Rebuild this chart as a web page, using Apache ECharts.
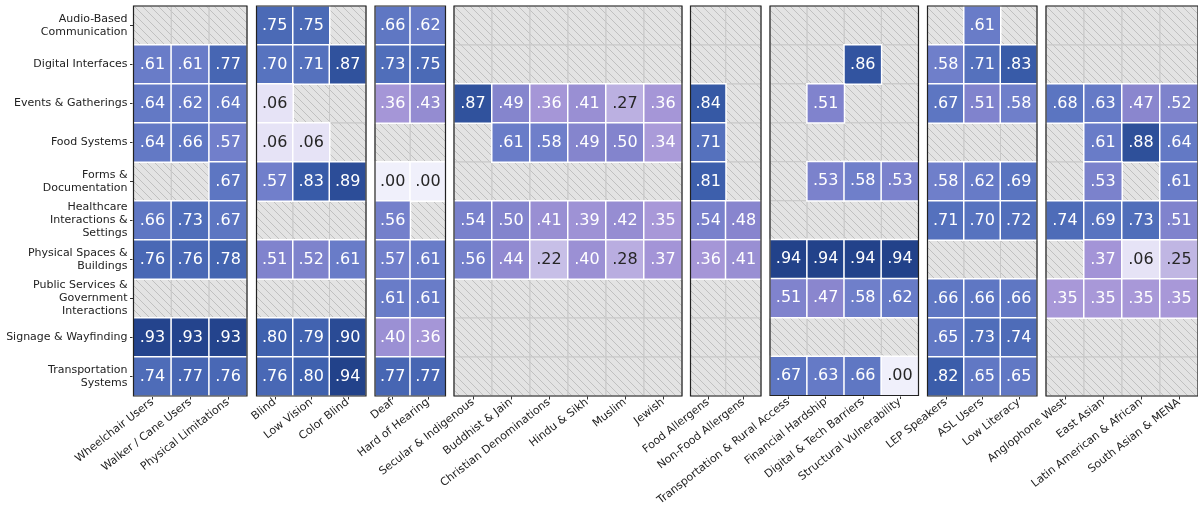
<!DOCTYPE html>
<html>
<head>
<meta charset="utf-8">
<script src="https://cdn.jsdelivr.net/npm/echarts@6/dist/echarts.min.js"></script>
<style>
  html, body { margin: 0; padding: 0; background: #fff; }
  #main { width: 1198px; height: 508px; }
</style>
</head>
<body>
<div id="main"></div>
<script>
// rows (top -> bottom)
const rowLabels = [
  'Audio-Based\nCommunication', 'Digital Interfaces', 'Events & Gatherings', 'Food Systems',
  'Forms &\nDocumentation', 'Healthcare\nInteractions &\nSettings', 'Physical Spaces &\nBuildings',
  'Public Services &\nGovernment\nInteractions', 'Signage & Wayfinding', 'Transportation\nSystems'
];

const mobilityCols = ['Wheelchair Users', 'Walker / Cane Users', 'Physical Limitations'];
const mobilityVals = [
  [null, null, null], [.61, .61, .77], [.64, .62, .64], [.64, .66, .57], [null, null, .67],
  [.66, .73, .67], [.76, .76, .78], [null, null, null], [.93, .93, .93], [.74, .77, .76]
];

const visionCols = ['Blind', 'Low Vision', 'Color Blind'];
const visionVals = [
  [.75, .75, null], [.70, .71, .87], [.06, null, null], [.06, .06, null], [.57, .83, .89],
  [null, null, null], [.51, .52, .61], [null, null, null], [.80, .79, .90], [.76, .80, .94]
];

const hearingCols = ['Deaf', 'Hard of Hearing'];
const hearingVals = [
  [.66, .62], [.73, .75], [.36, .43], [null, null], [.00, .00],
  [.56, null], [.57, .61], [.61, .61], [.40, .36], [.77, .77]
];

const faithCols = ['Secular & Indigenous', 'Buddhist & Jain', 'Christian Denominations', 'Hindu & Sikh', 'Muslim', 'Jewish'];
const faithVals = [
  [null, null, null, null, null, null], [null, null, null, null, null, null],
  [.87, .49, .36, .41, .27, .36], [null, .61, .58, .49, .50, .34],
  [null, null, null, null, null, null], [.54, .50, .41, .39, .42, .35],
  [.56, .44, .22, .40, .28, .37], [null, null, null, null, null, null],
  [null, null, null, null, null, null], [null, null, null, null, null, null]
];

const allergyCols = ['Food Allergens', 'Non-Food Allergens'];
const allergyVals = [
  [null, null], [null, null], [.84, null], [.71, null], [.81, null],
  [.54, .48], [.36, .41], [null, null], [null, null], [null, null]
];

const economicCols = ['Transportation & Rural Access', 'Financial Hardship', 'Digital & Tech Barriers', 'Structural Vulnerability'];
const economicVals = [
  [null, null, null, null], [null, null, .86, null], [null, .51, null, null], [null, null, null, null],
  [null, .53, .58, .53], [null, null, null, null], [.94, .94, .94, .94], [.51, .47, .58, .62],
  [null, null, null, null], [.67, .63, .66, .00]
];

const languageCols = ['LEP Speakers', 'ASL Users', 'Low Literacy'];
const languageVals = [
  [null, .61, null], [.58, .71, .83], [.67, .51, .58], [null, null, null], [.58, .62, .69],
  [.71, .70, .72], [null, null, null], [.66, .66, .66], [.65, .73, .74], [.82, .65, .65]
];

const cultureCols = ['Anglophone West', 'East Asian', 'Latin American & African', 'South Asian & MENA'];
const cultureVals = [
  [null, null, null, null], [null, null, null, null], [.68, .63, .47, .52], [null, .61, .88, .64],
  [null, .53, null, .61], [.74, .69, .73, .51], [null, .37, .06, .25], [.35, .35, .35, .35],
  [null, null, null, null], [null, null, null, null]
];

const groups = [
  [mobilityCols, mobilityVals], [visionCols, visionVals], [hearingCols, hearingVals],
  [faithCols, faithVals], [allergyCols, allergyVals], [economicCols, economicVals],
  [languageCols, languageVals], [cultureCols, cultureVals]
];

// panel boxes in px: [left, width]
const boxes = [
  [133.5, 113.5], [256.5, 109.5], [375, 70.5], [454, 228],
  [690.5, 70.5], [770, 148.5], [927.5, 109.5], [1046, 152]
];

const FONT = 'DejaVu Sans';

// hatch tile for missing cells
const tile = document.createElement('canvas');
tile.width = 8; tile.height = 8;
const tctx = tile.getContext('2d');
tctx.fillStyle = '#e3e3e3';
tctx.fillRect(0, 0, 8, 8);
tctx.strokeStyle = '#b8b8b8';
tctx.lineWidth = 0.8;
tctx.beginPath();
tctx.moveTo(-1, -1); tctx.lineTo(9, 9);
tctx.moveTo(-1, 7); tctx.lineTo(1, 9);
tctx.moveTo(7, -1); tctx.lineTo(9, 1);
tctx.stroke();
const hatch = { image: tile, repeat: 'repeat' };

const chart = echarts.init(document.getElementById('main'));

const grid = [], xAxis = [], yAxis = [], series = [], valueSeriesIdx = [];

groups.forEach(([cols, vals], g) => {
  grid.push({
    left: boxes[g][0], width: boxes[g][1], top: 6, height: 390,
    show: true, z: 5, backgroundColor: 'transparent',
    borderColor: '#222', borderWidth: 1.2
  });
  xAxis.push({
    type: 'category', gridIndex: g, data: cols, position: 'bottom',
    axisLine: { show: false }, splitLine: { show: false },
    axisTick: { show: true, alignWithLabel: true, length: 3.5, lineStyle: { color: '#333' } },
    axisLabel: { rotate: 38, fontSize: 11, color: '#222', fontFamily: FONT, margin: 5, interval: 0 }
  });
  yAxis.push({
    type: 'category', gridIndex: g, data: rowLabels, inverse: true,
    axisLine: { show: false }, splitLine: { show: false },
    axisTick: { show: g === 0, alignWithLabel: true, length: 3.5, lineStyle: { color: '#333' } },
    axisLabel: {
      show: g === 0, fontSize: 11, lineHeight: 13, color: '#222', fontFamily: FONT,
      margin: 6, interval: 0, align: 'right'
    }
  });

  const filled = [], missing = [];
  vals.forEach((row, r) => row.forEach((v, c) => {
    if (v === null) {
      missing.push([c, r]);
    } else {
      filled.push({ value: [c, r, v], label: { color: v < 0.3 ? '#262626' : '#fff' } });
    }
  }));

  series.push({
    type: 'custom', xAxisIndex: g, yAxisIndex: g, data: missing, silent: true, z: 1,
    renderItem: (params, api) => {
      const p = api.coord([api.value(0), api.value(1)]);
      const s = api.size([1, 1]);
      return {
        type: 'rect',
        shape: { x: p[0] - s[0] / 2, y: p[1] - s[1] / 2, width: s[0], height: s[1] },
        style: { fill: hatch, stroke: '#c8c8c8', lineWidth: 1 }
      };
    }
  });
  valueSeriesIdx.push(series.length);
  series.push({
    type: 'heatmap', xAxisIndex: g, yAxisIndex: g, data: filled, z: 2,
    itemStyle: { borderColor: '#fff', borderWidth: 1.5 },
    label: {
      show: true, fontSize: 16, fontFamily: FONT,
      formatter: (p) => p.value[2].toFixed(2).replace(/^0/, '')
    },
    emphasis: { disabled: true }
  });
});

const option = {
  animation: false,
  backgroundColor: '#fff',
  grid, xAxis, yAxis, series,
  visualMap: {
    type: 'continuous', show: false, min: 0, max: 0.94, dimension: 2,
    seriesIndex: valueSeriesIdx,
    inRange: {
      color: ['#f0f0fb', '#dcd7f1', '#c4bbe5', '#a797d8', '#8a86ce', '#6d7eca', '#5672be', '#3a5daa', '#22428a']
    }
  }
};
chart.setOption(option);
</script>
</body>
</html>
